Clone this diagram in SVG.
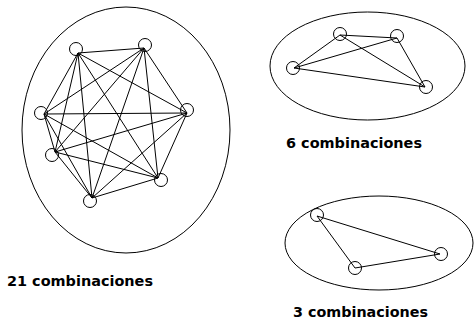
<svg xmlns="http://www.w3.org/2000/svg" width="474" height="323" viewBox="0 0 474 323">
<style>
.ell{fill:none;stroke:#000;stroke-width:1}
.edge{stroke:#000;stroke-width:1;fill:none}
.nd{fill:none;stroke:#000;stroke-width:1}
.lbl{font-family:"DejaVu Sans",sans-serif;font-weight:bold;font-size:14px;fill:#000}
</style>
<rect width="474" height="323" fill="#fff"/>
<g id="containers">
<ellipse class="ell" cx="126" cy="130" rx="104" ry="123"/>
<ellipse class="ell" cx="367.5" cy="66" rx="97.5" ry="54"/>
<ellipse class="ell" cx="379" cy="243" rx="94" ry="47"/>
</g>
<g id="connectors">
<g id="edges-7">
<line class="edge" x1="78" y1="53" x2="144" y2="48"/>
<line class="edge" x1="78" y1="53" x2="44" y2="114"/>
<line class="edge" x1="78" y1="53" x2="187" y2="113"/>
<line class="edge" x1="78" y1="53" x2="55" y2="152"/>
<line class="edge" x1="78" y1="53" x2="158" y2="178"/>
<line class="edge" x1="78" y1="53" x2="92" y2="198"/>
<line class="edge" x1="144" y1="48" x2="44" y2="114"/>
<line class="edge" x1="144" y1="48" x2="187" y2="113"/>
<line class="edge" x1="144" y1="48" x2="55" y2="152"/>
<line class="edge" x1="144" y1="48" x2="158" y2="178"/>
<line class="edge" x1="144" y1="48" x2="92" y2="198"/>
<line class="edge" x1="44" y1="114" x2="187" y2="113"/>
<line class="edge" x1="44" y1="114" x2="55" y2="152"/>
<line class="edge" x1="44" y1="114" x2="158" y2="178"/>
<line class="edge" x1="44" y1="114" x2="92" y2="198"/>
<line class="edge" x1="187" y1="113" x2="55" y2="152"/>
<line class="edge" x1="187" y1="113" x2="158" y2="178"/>
<line class="edge" x1="187" y1="113" x2="92" y2="198"/>
<line class="edge" x1="55" y1="152" x2="158" y2="178"/>
<line class="edge" x1="55" y1="152" x2="92" y2="198"/>
<line class="edge" x1="158" y1="178" x2="92" y2="198"/>
</g>
<g id="edges-4">
<line class="edge" x1="340" y1="35" x2="397" y2="38"/>
<line class="edge" x1="340" y1="35" x2="294" y2="68"/>
<line class="edge" x1="340" y1="35" x2="425" y2="87"/>
<line class="edge" x1="397" y1="38" x2="294" y2="68"/>
<line class="edge" x1="397" y1="38" x2="425" y2="87"/>
<line class="edge" x1="294" y1="68" x2="425" y2="87"/>
</g>
<g id="edges-3">
<line class="edge" x1="317" y1="216" x2="440" y2="254"/>
<line class="edge" x1="317" y1="216" x2="355" y2="268"/>
<line class="edge" x1="355" y1="268" x2="440" y2="254"/>
</g>
</g>
<g id="n7-1"><circle class="nd" cx="76" cy="49" r="6.5"/></g>
<g id="n7-2"><circle class="nd" cx="145" cy="45" r="6.5"/></g>
<g id="n7-3"><circle class="nd" cx="41" cy="113" r="6.5"/></g>
<g id="n7-4"><circle class="nd" cx="187" cy="110" r="6.5"/></g>
<g id="n7-5"><circle class="nd" cx="52" cy="155" r="6.5"/></g>
<g id="n7-6"><circle class="nd" cx="161" cy="180" r="6.5"/></g>
<g id="n7-7"><circle class="nd" cx="90" cy="201" r="6.5"/></g>
<g id="n4-1"><circle class="nd" cx="340" cy="34" r="6.5"/></g>
<g id="n4-2"><circle class="nd" cx="397" cy="36" r="6.5"/></g>
<g id="n4-3"><circle class="nd" cx="293" cy="68" r="6.5"/></g>
<g id="n4-4"><circle class="nd" cx="426" cy="87" r="6.5"/></g>
<g id="n3-1"><circle class="nd" cx="317" cy="215" r="6.5"/></g>
<g id="n3-2"><circle class="nd" cx="441" cy="254" r="6.5"/></g>
<g id="n3-3"><circle class="nd" cx="355" cy="268" r="6.5"/></g>
<g id="labels">
<text class="lbl" x="7" y="286" textLength="146" lengthAdjust="spacingAndGlyphs">21 combinaciones</text>
<text class="lbl" x="286" y="148" textLength="136" lengthAdjust="spacingAndGlyphs">6 combinaciones</text>
<text class="lbl" x="293" y="317" textLength="135" lengthAdjust="spacingAndGlyphs">3 combinaciones</text>
</g>
</svg>
